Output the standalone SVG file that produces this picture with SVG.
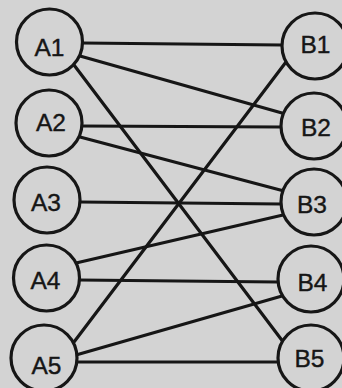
<svg xmlns="http://www.w3.org/2000/svg" width="342" height="388" viewBox="0 0 342 388">
  <style>
    .bg { fill: #d3d3d3; }
    .node circle { fill: #d3d3d3; stroke: #161616; stroke-width: 3.2; }
    .node text { font-family: "Liberation Sans", Arial, sans-serif; font-size: 24.5px; fill: #161616; stroke: #161616; stroke-width: 0.4; text-anchor: middle; }
    #edges line { stroke: #161616; stroke-width: 3.2; stroke-linecap: round; }
  </style>
  <rect class="bg" x="0" y="0" width="342" height="388"/>

  <!-- connectors between the two columns -->
  <g id="edges">
    <line x1="82" y1="43" x2="282" y2="45"/>
    <line x1="80" y1="56" x2="282" y2="113"/>
    <line x1="74" y1="65" x2="284" y2="343"/>
    <line x1="81" y1="126" x2="281" y2="127"/>
    <line x1="80" y1="137" x2="284" y2="191"/>
    <line x1="80" y1="202" x2="281" y2="204"/>
    <line x1="76" y1="263" x2="283" y2="215"/>
    <line x1="79" y1="280" x2="278" y2="282"/>
    <line x1="74" y1="342" x2="286" y2="62"/>
    <line x1="76" y1="355" x2="282" y2="296"/>
    <line x1="77" y1="362" x2="278" y2="362"/>
  </g>

  <!-- left column -->
  <g id="A1" class="node"><circle cx="49.5" cy="42" r="33"/><text x="49.5" y="55.5">A1</text></g>
  <g id="A2" class="node"><circle cx="49" cy="123" r="33"/><text x="51" y="130.5">A2</text></g>
  <g id="A3" class="node"><circle cx="47" cy="200" r="33"/><text x="46" y="210.5">A3</text></g>
  <g id="A4" class="node"><circle cx="46.5" cy="278" r="33"/><text x="45.5" y="289">A4</text></g>
  <g id="A5" class="node"><circle cx="44" cy="358" r="33"/><text x="46.5" y="374">A5</text></g>

  <!-- right column -->
  <g id="B1" class="node"><circle cx="315" cy="46" r="33"/><text x="315.5" y="53">B1</text></g>
  <g id="B2" class="node"><circle cx="314" cy="126" r="33"/><text x="316" y="136">B2</text></g>
  <g id="B3" class="node"><circle cx="314" cy="202" r="33"/><text x="312" y="212.5">B3</text></g>
  <g id="B4" class="node"><circle cx="311" cy="279" r="33"/><text x="312.5" y="291">B4</text></g>
  <g id="B5" class="node"><circle cx="311" cy="358" r="33"/><text x="309.5" y="366.5">B5</text></g>
</svg>
